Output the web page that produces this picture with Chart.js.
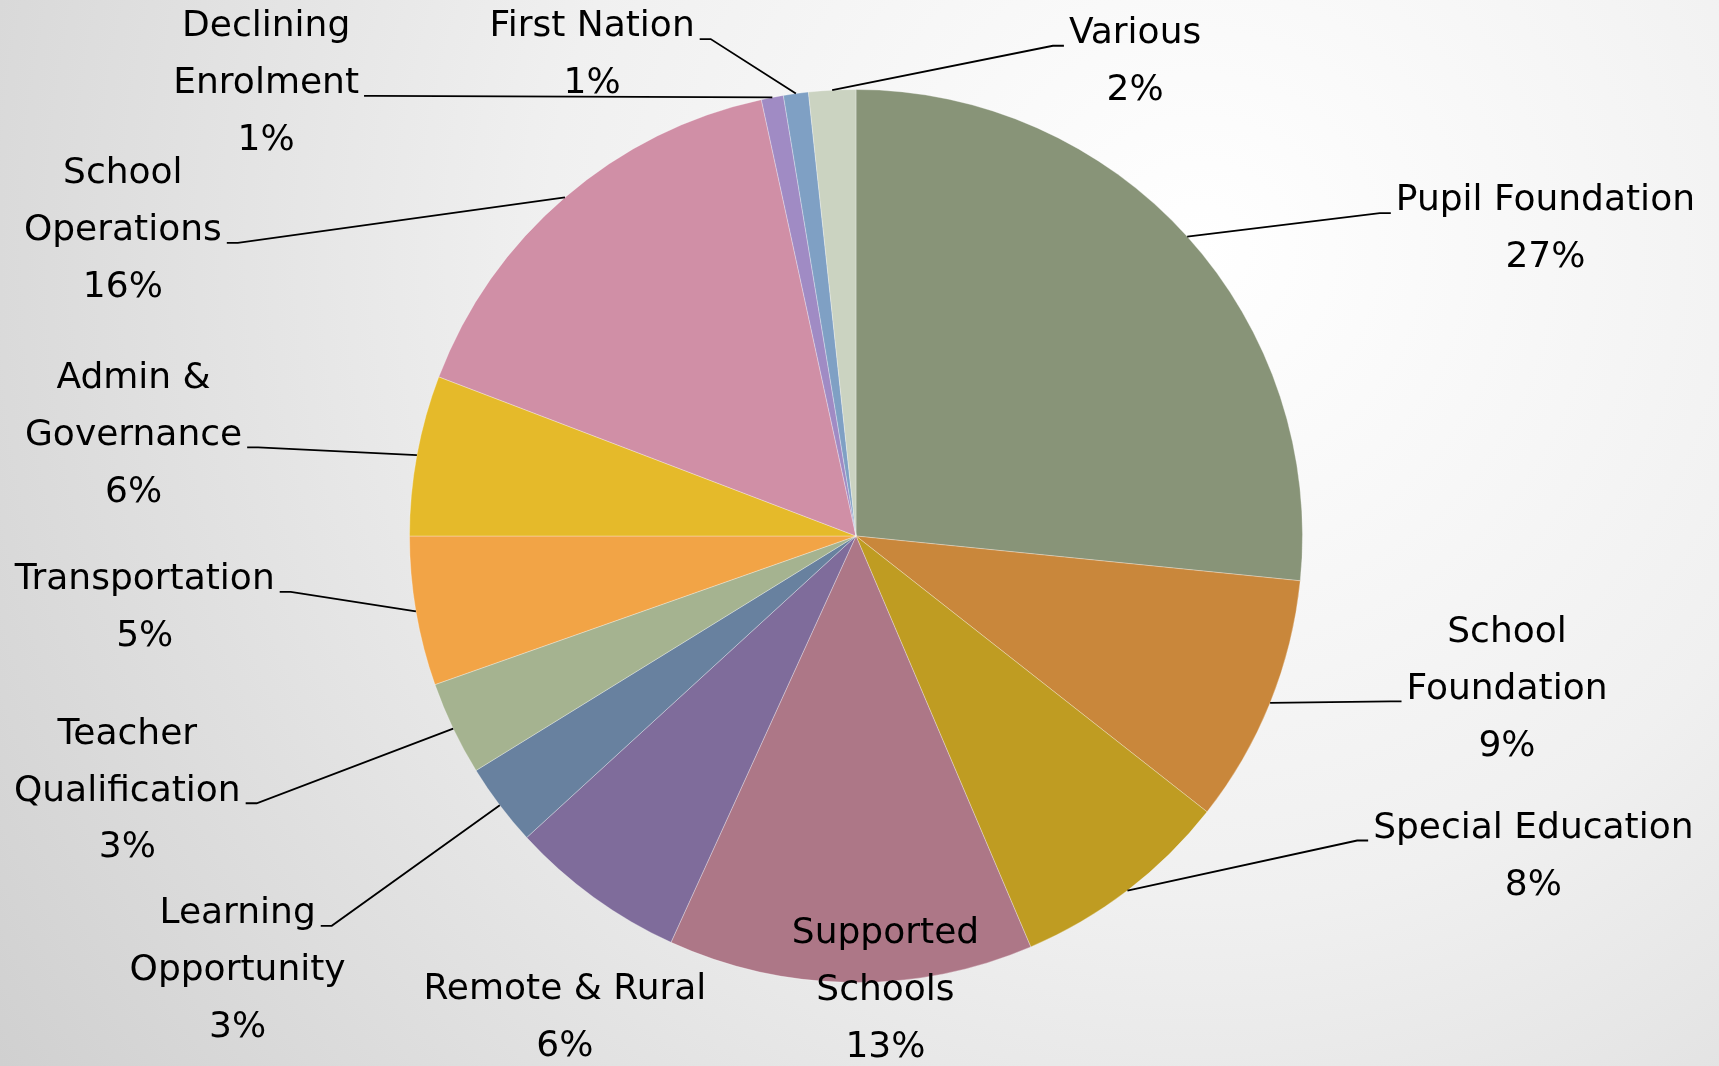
<!DOCTYPE html>
<html>
<head>
<meta charset="utf-8">
<script src="https://cdn.jsdelivr.net/npm/chart.js@4"></script>
<style>
  html, body { margin: 0; padding: 0; background: #e6e6e6; }
</style>
</head>
<body>
<canvas id="pie-chart" width="1719" height="1066"></canvas>
<script>
const categories = ["Pupil Foundation", "School Foundation", "Special Education", "Supported Schools",
  "Remote & Rural", "Learning Opportunity", "Teacher Qualification", "Transportation",
  "Admin & Governance", "School Operations", "Declining Enrolment", "First Nation", "Various"];

const shares = [26.6, 9.0, 8.0, 13.2, 6.4, 3.0, 3.4, 5.4, 5.8, 15.8, 0.8, 0.9, 1.7];

const colours = ["#889478", "#C9873B", "#BF9C22", "#AD7787", "#7F6C9B", "#68819F", "#A5B390",
  "#F2A446", "#E5BA2A", "#D08FA6", "#A08BC4", "#7FA0C4", "#CBD3C1"];

// label layout, in pie radii from the centre (text centre x, first line y)
const label_x = [1.544, 1.458, 1.517, 0.066, -0.652, -1.385, -1.632, -1.593, -1.618, -1.642, -1.321, -0.591, 0.625];
const label_y = [-0.750, 0.216, 0.655, 0.890, 1.017, 0.846, 0.444, 0.098, -0.353, -0.811, -1.140, -1.140, -1.125];
// words kept on the first line (0 = no break)
const label_break = [0, 1, 0, 1, 0, 1, 1, 0, 2, 1, 1, 0, 0];
// which text line the leader joins (-1 = no leader)
const leader_line = [0, 1, 0, -1, -1, 0, 1, 0, 1, 1, 1, 0, 0];

const total = shares.reduce((a, b) => a + b, 0);

const background_plugin =
{
    id: 'slide_background',
    beforeDraw: (chart) =>
    {
        const ctx = chart.ctx;
        ctx.save();
        let g = ctx.createRadialGradient(1200, 250, 0, 1200, 250, 1450);
        g.addColorStop(0, "#ffffff");
        g.addColorStop(0.45, "#f0f0f0");
        g.addColorStop(1, "#d0d0d0");
        ctx.fillStyle = g;
        ctx.fillRect(0, 0, chart.width, chart.height);
        ctx.restore();
    }
};

const label_plugin =
{
    id: 'outside_labels',
    afterDraw: (chart) =>
    {
        const ctx = chart.ctx;
        const meta = chart.getDatasetMeta(0);
        ctx.save();
        ctx.font = "36px 'DejaVu Sans'";
        ctx.fillStyle = "#000";
        ctx.strokeStyle = "#000";
        ctx.lineWidth = 1.8;
        ctx.textAlign = "center";
        ctx.textBaseline = "middle";

        meta.data.forEach((arc, i) =>
        {
            const p = arc.getProps(['x', 'y', 'startAngle', 'endAngle', 'outerRadius'], true);
            const R = p.outerRadius;
            const lineH = 0.1275 * R;
            const words = categories[i].split(" ");
            let lines = label_break[i] > 0
                ? [words.slice(0, label_break[i]).join(" "), words.slice(label_break[i]).join(" ")]
                : [categories[i]];
            lines.push(Math.round(shares[i] / total * 100) + "%");

            const cx = p.x + label_x[i] * R;
            const y0 = p.y + label_y[i] * R;
            lines.forEach((t, k) => ctx.fillText(t, cx, y0 + k * lineH));

            if (leader_line[i] >= 0)
            {
                const mid = (p.startAngle + p.endAngle) / 2;
                const px = p.x + Math.cos(mid) * R;
                const py = p.y + Math.sin(mid) * R;
                const w = ctx.measureText(lines[leader_line[i]]).width;
                const ay = y0 + leader_line[i] * lineH + 0.027 * R;
                const onRight = cx > px;
                const edge = onRight ? cx - w / 2 - 5 : cx + w / 2 + 5;
                const elbow = onRight ? edge - 11 : edge + 11;
                ctx.beginPath();
                ctx.moveTo(px, py);
                ctx.lineTo(elbow, ay);
                ctx.lineTo(edge, ay);
                ctx.stroke();
            }
        });
        ctx.restore();
    }
};

const pie_chart = new Chart(document.getElementById("pie-chart").getContext("2d"),
{
    type: 'pie',
    data:
    {
        labels: categories,
        datasets:
        [
            {
                data: shares,
                backgroundColor: colours,
                borderColor: "rgba(255,255,255,0.3)",
                borderWidth: 1,
            }
        ]
    },
    plugins: [background_plugin, label_plugin],
    options:
    {
        responsive: false,
        animation: false,
        layout:
        {
            padding: { left: 409, right: 416, top: 89, bottom: 83 }
        },
        plugins:
        {
            legend: { display: false },
            tooltip: { enabled: false },
        },
    }
});
</script>
</body>
</html>
